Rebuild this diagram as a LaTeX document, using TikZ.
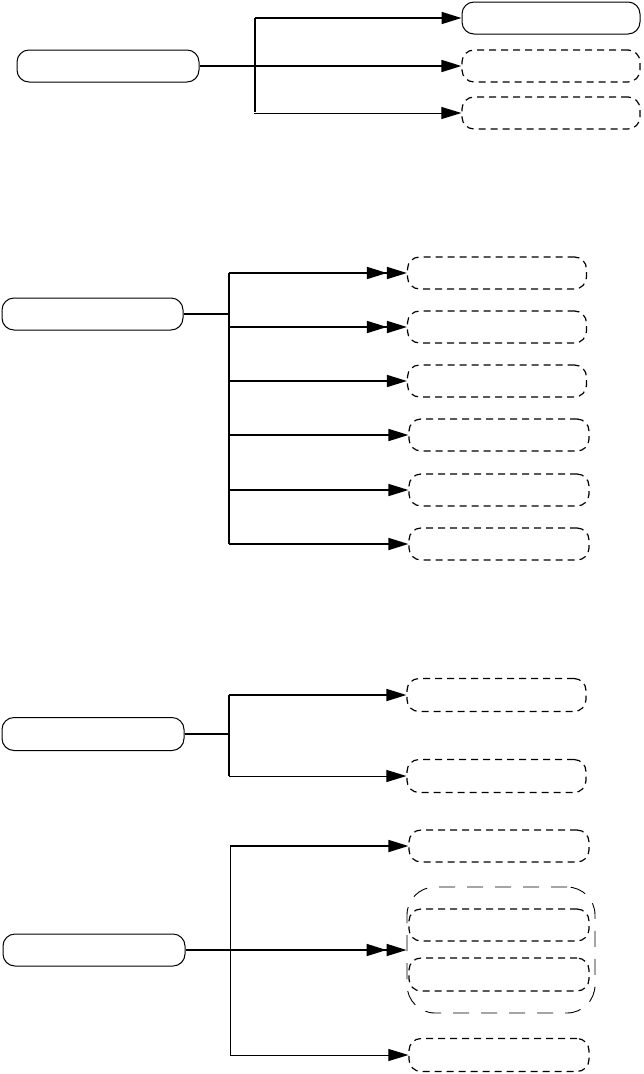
\documentclass[tikz,border=0pt]{standalone}
\usetikzlibrary{arrows.meta}
\begin{document}
\begin{tikzpicture}[x=1pt,y=-1pt,
 box/.style={draw, rounded corners=12pt, minimum height=32pt, inner sep=0pt, line width=1pt},
 dbox/.style={box, line width=1.2pt, dash pattern=on 7pt off 5pt},
 grp/.style={draw, rounded corners=28pt, inner sep=0pt, line width=0.9pt, dash pattern=on 16pt off 12pt},
 conn/.style={line width=1.7pt},
 thinconn/.style={line width=1pt},
 tip/.style={-{Triangle[length=20pt,width=12pt]}},
 dtip/.style={-{Triangle[length=20pt,width=12pt,sep=0pt]Triangle[length=20pt,width=12pt]}},
]
\useasboundingbox (0,0) rectangle (644,1074);

% ---------- section 1 ----------
\node[box, minimum width=182pt] (s1) at (108,66) {};
\node[box, minimum width=178pt] (t1a) at (551,18) {};
\node[dbox, minimum width=178pt] (t1b) at (551,66) {};
\node[dbox, minimum width=178pt] (t1c) at (551,113) {};
\coordinate (b1t) at (255,18);
\coordinate (b1b) at (255,112);
\coordinate (b1c) at (254,113);
\draw[conn] (b1b) -- (b1t);
\draw[conn,tip] (b1t) -- (t1a.west);
\draw[conn,tip] (s1.east) -- (t1b.west);
\draw[thinconn,tip] (b1c) -- (t1c.west);

% ---------- section 2 ----------
\node[box, minimum width=181pt] (s2) at (92.5,314) {};
\node[dbox, minimum width=179pt] (t2a) at (497,273) {};
\node[dbox, minimum width=179pt] (t2b) at (497,327) {};
\node[dbox, minimum width=179pt] (t2c) at (497,381) {};
\node[dbox, minimum width=180pt] (t2d) at (499,435) {};
\node[dbox, minimum width=180pt] (t2e) at (499,490) {};
\node[dbox, minimum width=180pt] (t2f) at (499,544) {};
\coordinate (b2t) at (229,273);
\coordinate (b2b) at (229,544);
\coordinate (j2) at (229,314);
\draw[conn] (s2.east) -- (j2);
\draw[conn] (b2t) -- (b2b);
\draw[conn,dtip] (b2t) -- (t2a.west);
\draw[conn,dtip] (b2t |- t2b.west) -- (t2b.west);
\draw[conn,tip] (b2t |- t2c.west) -- (t2c.west);
\draw[conn,tip] (b2t |- t2d.west) -- (t2d.west);
\draw[conn,tip] (b2t |- t2e.west) -- (t2e.west);
\draw[conn,tip] (b2b) -- (t2f.west);

% ---------- section 3 ----------
\node[box, minimum width=182pt, minimum height=33pt] (s3) at (93,734) {};
\node[dbox, minimum width=179pt, minimum height=33pt] (t3a) at (496.5,695) {};
\node[dbox, minimum width=179pt, minimum height=33pt] (t3b) at (496.5,776) {};
\coordinate (j3) at (229,734);
\coordinate (b3t) at (229,695);
\coordinate (b3b) at (229,776);
\draw[conn] (s3.east) -- (j3);
\draw[conn] (b3t) -- (b3b);
\draw[conn,tip] (b3t) -- (t3a.west);
\draw[thinconn,tip] (b3b) -- (t3b.west);

% ---------- section 4 ----------
\node[box, minimum width=182pt] (s4) at (94,950) {};
\node[dbox, minimum width=180pt] (t4a) at (499,846) {};
\node[grp, minimum width=188pt, minimum height=126pt] (t4b) at (501,950) {};
\node[dbox, minimum width=180pt] (t4b1) at (499,925) {};
\node[dbox, minimum width=180pt, minimum height=33pt] (t4b2) at (499,974.5) {};
\node[dbox, minimum width=180pt, minimum height=33pt] (t4c) at (499,1055) {};
\coordinate (b4t) at (230,846);
\coordinate (b4b) at (230,1055);
\draw[thinconn] (b4t) -- (b4b);
\draw[conn,tip] (b4t) -- (t4a.west);
\draw[thinconn,tip] (b4b) -- (t4c.west);
\draw[conn,dtip] (s4.east) -- (t4b.west);

\end{tikzpicture}
\end{document}
